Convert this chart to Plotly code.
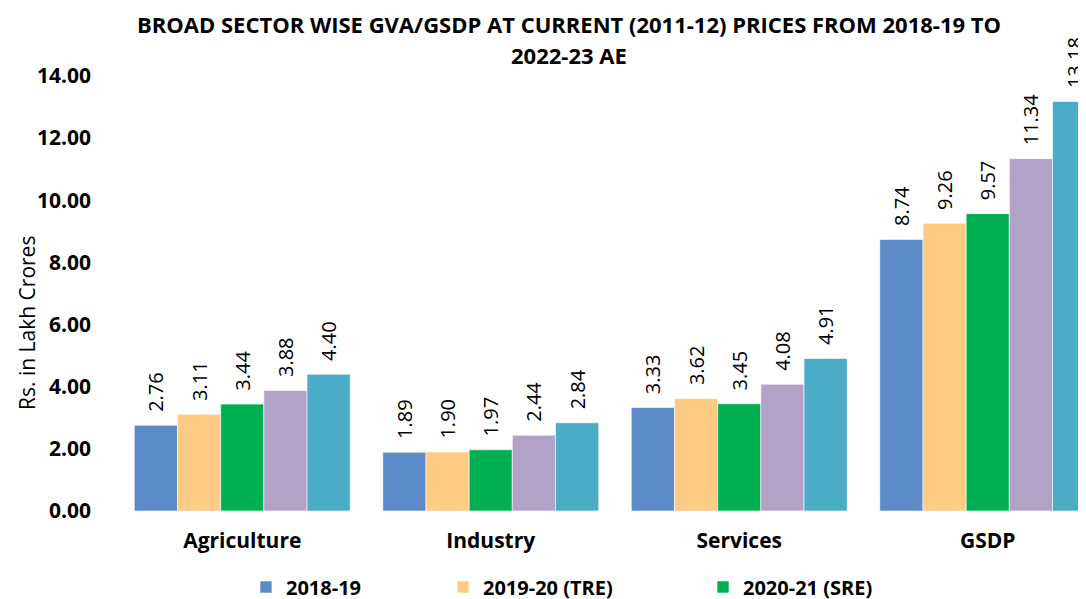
import plotly.graph_objects as go

categories = ["Agriculture", "Industry", "Services", "GSDP"]
series_names = ["2018-19", "2019-20 (TRE)", "2020-21 (SRE)", "2021-22 (RE)", "2022-23 AE"]
v_2018_19 = [2.76, 1.89, 3.33, 8.74]
v_2019_20 = [3.11, 1.90, 3.62, 9.26]
v_2020_21 = [3.44, 1.97, 3.45, 9.57]
v_2021_22 = [3.88, 2.44, 4.08, 11.34]
v_2022_23 = [4.40, 2.84, 4.91, 13.18]
y_ticks = [0, 2, 4, 6, 8, 10, 12, 14]

colors = ["#5B8BC8", "#FDCB84", "#00B050", "#B3A2C7", "#4BACC6"]
all_values = [v_2018_19, v_2019_20, v_2020_21, v_2021_22, v_2022_23]
legend_ids = ["legend", "legend2", "legend3", "legend3", "legend3"]

W, H = 1086, 599
OFF = 8  # page body margin offset
ml, mr, mt, mb = 110, 0, 68, 96
plotW = W - ml - mr
plotH = H - mt - mb
cat_px = 248.5
font_main = "Open Sans"


def px(sx):
    return (sx - OFF - ml) / plotW


def py(sy):
    return (H - mb - (sy - OFF)) / plotH


fig = go.Figure()
for i, (name, vals) in enumerate(zip(series_names, all_values)):
    fig.add_trace(go.Bar(
        x=categories, y=vals, name=name,
        marker=dict(color=colors[i], line=dict(color="rgba(255,255,255,0.6)", width=1)),
        text=[f"{v:.2f}" for v in vals],
        texttemplate="\u00a0\u00a0%{text}",
        textposition="outside", textangle=-90, constraintext="none",
        textfont=dict(family=font_main, size=20, color="#000000"),
        cliponaxis=False,
        legend=legend_ids[i],
        showlegend=(i < 3),
    ))

legend_common = dict(orientation="h", xref="container", yref="container",
                     xanchor="left", yanchor="middle",
                     font=dict(family=font_main, size=20, color="#000000", weight="bold"),
                     itemwidth=30, bgcolor="rgba(0,0,0,0)")
leg_y = (H - (587 - OFF)) / H
fig.update_layout(
    width=W, height=H,
    margin=dict(l=ml, r=mr, t=mt, b=mb, autoexpand=False),
    paper_bgcolor="white", plot_bgcolor="white",
    barmode="group", bargap=0.131, bargroupgap=0,
    font=dict(family=font_main, color="#000000"),
    xaxis=dict(range=[-0.5, -0.5 + plotW / cat_px], showline=False, showgrid=False, zeroline=False,
               tickfont=dict(family=font_main, size=21, color="#000000", weight="bold"),
               ticks="", ticklabelstandoff=15),
    yaxis=dict(range=[0, 14], tickvals=y_ticks, ticktext=[f"{t:.2f}" for t in y_ticks],
               showline=False, showgrid=False, zeroline=False,
               tickfont=dict(family=font_main, size=21, color="#000000", weight="bold"),
               ticks="", ticklabelstandoff=26),
    legend=dict(legend_common, x=(258 - OFF - 12) / W, y=leg_y),
    legend2=dict(legend_common, x=(455 - OFF - 12) / W, y=leg_y),
    legend3=dict(legend_common, x=(715 - OFF - 12) / W, y=leg_y),
    showlegend=True,
)

fig.add_annotation(text="<b>BROAD SECTOR WISE GVA/GSDP AT CURRENT (2011-12) PRICES FROM 2018-19 TO</b>",
                   xref="paper", yref="paper", x=px(569), y=py(24),
                   xanchor="center", yanchor="middle", showarrow=False,
                   font=dict(family=font_main, size=22, color="#000000"))
fig.add_annotation(text="<b>2022-23 AE</b>",
                   xref="paper", yref="paper", x=px(569), y=py(55),
                   xanchor="center", yanchor="middle", showarrow=False,
                   font=dict(family=font_main, size=22, color="#000000"))
fig.add_annotation(text="Rs. in Lakh Crores",
                   xref="paper", yref="paper", x=px(27), y=py(323),
                   xanchor="center", yanchor="middle", textangle=-90, showarrow=False,
                   font=dict(family=font_main, size=21, color="#000000"))

fig.write_html("out.html")
